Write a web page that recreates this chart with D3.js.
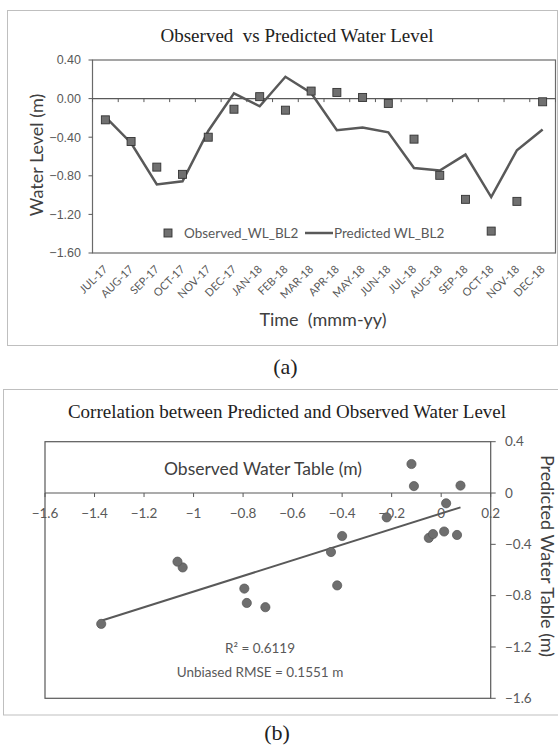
<!DOCTYPE html>
<html>
<head>
<meta charset="utf-8">
<script src="https://cdn.jsdelivr.net/npm/d3@7"></script>
<style>
body { margin: 0; background: #fff; }
</style>
</head>
<body>
<div id="chart"></div>
<script>
// data
var months = ["JUL-17", "AUG-17", "SEP-17", "OCT-17", "NOV-17", "DEC-17", "JAN-18", "FEB-18", "MAR-18",
              "APR-18", "MAY-18", "JUN-18", "JUL-18", "AUG-18", "SEP-18", "OCT-18", "NOV-18", "DEC-18"];
var observed  = [-0.22, -0.445, -0.71, -0.785, -0.40, -0.11, 0.02, -0.12, 0.078,
                 0.064, 0.012, -0.05, -0.42, -0.795, -1.044, -1.373, -1.065, -0.033];
var predicted = [-0.19, -0.46, -0.89, -0.857, -0.335, 0.054, -0.08, 0.226, 0.058,
                 -0.327, -0.30, -0.35, -0.72, -0.745, -0.58, -1.02, -0.535, -0.32];
var yTicksA = [0.4, 0, -0.4, -0.8, -1.2, -1.6];
var xTicksB = [-1.6, -1.4, -1.2, -1, -0.8, -0.6, -0.4, -0.2, 0, 0.2];
var yTicksB = [0.4, 0, -0.4, -0.8, -1.2, -1.6];
var statsLines = ["R\u00b2 = 0.6119", "Unbiased RMSE = 0.1551 m"];

var W = 558, H = 747;
var grey = "#595959", dark = "#404040";
var sans = "Lato, 'Open Sans', sans-serif";
var serif = "'Liberation Serif', 'Times New Roman', serif";

var svg = d3.select("#chart").append("svg")
    .attr("width", W)
    .attr("height", H);

/* ---------- (a) time series ---------- */
svg.append("rect")
    .attr("x", 7.5).attr("y", 10.5)
    .attr("width", 550).attr("height", 335)
    .attr("fill", "none").attr("stroke", "#bfbfbf");

var x = d3.scaleBand().domain(months).range([92.5, 555.5]);
var y = d3.scaleLinear().domain([-1.6, 0.4]).range([253, 60]);

var gA = svg.append("g");

gA.append("rect")
    .attr("x", x.range()[0]).attr("y", y(0.4))
    .attr("width", x.range()[1] - x.range()[0])
    .attr("height", y(-1.6) - y(0.4))
    .attr("fill", "none").attr("stroke", "#6a6a6a").attr("stroke-width", 1.2);

// category axis sits on zero
gA.append("line")
    .attr("x1", x.range()[0]).attr("x2", x.range()[1])
    .attr("y1", y(0)).attr("y2", y(0))
    .attr("stroke", grey).attr("stroke-width", 1.2);

gA.selectAll(".xtick")
    .data(d3.range(months.length + 1))
    .enter().append("line")
    .attr("x1", function (i) { return x.range()[0] + i * x.step(); })
    .attr("x2", function (i) { return x.range()[0] + i * x.step(); })
    .attr("y1", y(0)).attr("y2", y(0) + 3.5)
    .attr("stroke", grey);

gA.selectAll(".ytick")
    .data(yTicksA)
    .enter().append("line")
    .attr("x1", x.range()[0] - 4).attr("x2", x.range()[0])
    .attr("y1", function (d) { return y(d); })
    .attr("y2", function (d) { return y(d); })
    .attr("stroke", grey);

gA.selectAll(".ylab")
    .data(yTicksA)
    .enter().append("text")
    .attr("x", 81)
    .attr("y", function (d) { return y(d); })
    .attr("dy", "0.35em")
    .attr("text-anchor", "end")
    .style("font-family", "'Liberation Sans', Arial, sans-serif")
    .style("font-size", "12.5px")
    .attr("fill", grey)
    .text(function (d) { return d3.format(".2f")(d); });

gA.selectAll(".xlab")
    .data(months)
    .enter().append("text")
    .attr("transform", function (d) {
        return "translate(" + (x(d) + x.bandwidth() / 2 + 3) + "," + 270 + ") rotate(-45)";
    })
    .attr("text-anchor", "end")
    .style("font-family", sans)
    .style("font-size", "11px")
    .attr("fill", grey)
    .text(function (d) { return d; });

var line = d3.line()
    .x(function (d, i) { return x(months[i]) + x.bandwidth() / 2; })
    .y(function (d) { return y(d); });

gA.append("path")
    .datum(predicted)
    .attr("d", line)
    .attr("fill", "none")
    .attr("stroke", grey)
    .attr("stroke-width", 2.5)
    .attr("stroke-linejoin", "miter");

gA.selectAll(".obs")
    .data(observed)
    .enter().append("rect")
    .attr("x", function (d, i) { return x(months[i]) + x.bandwidth() / 2 - 4; })
    .attr("y", function (d) { return y(d) - 4; })
    .attr("width", 8).attr("height", 8)
    .attr("fill", "#707070")
    .attr("stroke", "#333")
    .attr("stroke-width", 0.9);

// legend
var lg = gA.append("g").style("font-family", sans).style("font-size", "13.5px").attr("fill", grey);
lg.append("rect").attr("x", 164).attr("y", 229).attr("width", 8).attr("height", 8)
    .attr("fill", "#707070").attr("stroke", "#333").attr("stroke-width", 0.9);
lg.append("text").attr("x", 184).attr("y", 238).text("Observed_WL_BL2");
lg.append("line").attr("x1", 305).attr("x2", 333).attr("y1", 233).attr("y2", 233)
    .attr("stroke", grey).attr("stroke-width", 2.5);
lg.append("text").attr("x", 334).attr("y", 238).text("Predicted WL_BL2");

svg.append("text")
    .attr("x", 297).attr("y", 42)
    .attr("text-anchor", "middle")
    .style("font-family", serif).style("font-size", "19px")
    .attr("fill", "#222")
    .style("white-space", "pre")
    .text("Observed  vs Predicted Water Level");

svg.append("text")
    .attr("transform", "translate(43,155) rotate(-90)")
    .attr("text-anchor", "middle")
    .style("font-family", sans).style("font-size", "18px")
    .attr("fill", dark)
    .text("Water Level (m)");

svg.append("text")
    .attr("x", 323).attr("y", 326)
    .attr("text-anchor", "middle")
    .style("font-family", sans).style("font-size", "18px")
    .style("white-space", "pre")
    .attr("fill", dark)
    .text("Time  (mmm-yy)");

svg.append("text")
    .attr("x", 285.5).attr("y", 374)
    .attr("text-anchor", "middle")
    .style("font-family", serif).style("font-size", "22px")
    .attr("fill", "#222")
    .text("(a)");

/* ---------- (b) scatter ---------- */
svg.append("rect")
    .attr("x", 3.5).attr("y", 389.5)
    .attr("width", 556).attr("height", 325.5)
    .attr("fill", "none").attr("stroke", "#bfbfbf");

var xs = d3.scaleLinear().domain([-1.6, 0.2]).range([45, 490.7]);
var ys = d3.scaleLinear().domain([-1.6, 0.4]).range([698.3, 441.7]);

var gB = svg.append("g");

gB.append("rect")
    .attr("x", xs(-1.6)).attr("y", ys(0.4))
    .attr("width", xs(0.2) - xs(-1.6))
    .attr("height", ys(-1.6) - ys(0.4))
    .attr("fill", "none").attr("stroke", grey).attr("stroke-width", 1.2);

gB.append("line")
    .attr("x1", xs(-1.6)).attr("x2", xs(0.2))
    .attr("y1", ys(0)).attr("y2", ys(0))
    .attr("stroke", grey).attr("stroke-width", 1.2);

gB.selectAll(".xtick")
    .data(xTicksB)
    .enter().append("line")
    .attr("x1", function (d) { return xs(d); })
    .attr("x2", function (d) { return xs(d); })
    .attr("y1", ys(0)).attr("y2", ys(0) + 4)
    .attr("stroke", grey);

gB.selectAll(".xlab")
    .data(xTicksB)
    .enter().append("text")
    .attr("x", function (d) { return xs(d); })
    .attr("y", 517.5)
    .attr("text-anchor", "middle")
    .style("font-family", sans).style("font-size", "13.5px")
    .attr("fill", grey)
    .text(function (d) { return d3.format("")(d); });

gB.selectAll(".ytick")
    .data(yTicksB)
    .enter().append("line")
    .attr("x1", xs(0.2)).attr("x2", xs(0.2) + 5)
    .attr("y1", function (d) { return ys(d); })
    .attr("y2", function (d) { return ys(d); })
    .attr("stroke", grey);

gB.selectAll(".ylab")
    .data(yTicksB)
    .enter().append("text")
    .attr("x", 505)
    .attr("y", function (d) { return ys(d); })
    .attr("dy", "0.35em")
    .style("font-family", sans).style("font-size", "13.5px")
    .attr("fill", grey)
    .text(function (d) { return d3.format("")(d); });

// least squares trend of predicted on observed
var mx = d3.mean(observed), my = d3.mean(predicted);
var sxy = d3.sum(observed, function (d, i) { return (d - mx) * (predicted[i] - my); });
var sxx = d3.sum(observed, function (d) { return (d - mx) * (d - mx); });
var slope = sxy / sxx, icpt = my - slope * mx;
var ext = d3.extent(observed);

gB.append("line")
    .attr("x1", xs(ext[0])).attr("y1", ys(icpt + slope * ext[0]))
    .attr("x2", xs(ext[1])).attr("y2", ys(icpt + slope * ext[1]))
    .attr("stroke", grey).attr("stroke-width", 2);

gB.selectAll(".pt")
    .data(observed)
    .enter().append("circle")
    .attr("cx", function (d) { return xs(d); })
    .attr("cy", function (d, i) { return ys(predicted[i]); })
    .attr("r", 4.6)
    .attr("fill", "#6e6e6e")
    .attr("stroke", "#555")
    .attr("stroke-width", 0.7);

gB.selectAll(".stat")
    .data(statsLines)
    .enter().append("text")
    .attr("x", 260)
    .attr("y", function (d, i) { return 653 + i * 24; })
    .attr("text-anchor", "middle")
    .style("font-family", sans).style("font-size", "13.5px")
    .attr("fill", grey)
    .text(function (d) { return d; });

svg.append("text")
    .attr("x", 263).attr("y", 474.5)
    .attr("text-anchor", "middle")
    .style("font-family", sans).style("font-size", "17.5px")
    .attr("fill", dark)
    .text("Observed Water Table (m)");

svg.append("text")
    .attr("transform", "translate(541,556) rotate(90)")
    .attr("text-anchor", "middle")
    .style("font-family", sans).style("font-size", "18px")
    .attr("fill", dark)
    .text("Predicted Water Table (m)");

svg.append("text")
    .attr("x", 287).attr("y", 418)
    .attr("text-anchor", "middle")
    .style("font-family", serif).style("font-size", "19px")
    .attr("fill", "#222")
    .text("Correlation between Predicted and Observed Water Level");

svg.append("text")
    .attr("x", 277).attr("y", 740)
    .attr("text-anchor", "middle")
    .style("font-family", serif).style("font-size", "22px")
    .attr("fill", "#222")
    .text("(b)");
</script>
</body>
</html>
